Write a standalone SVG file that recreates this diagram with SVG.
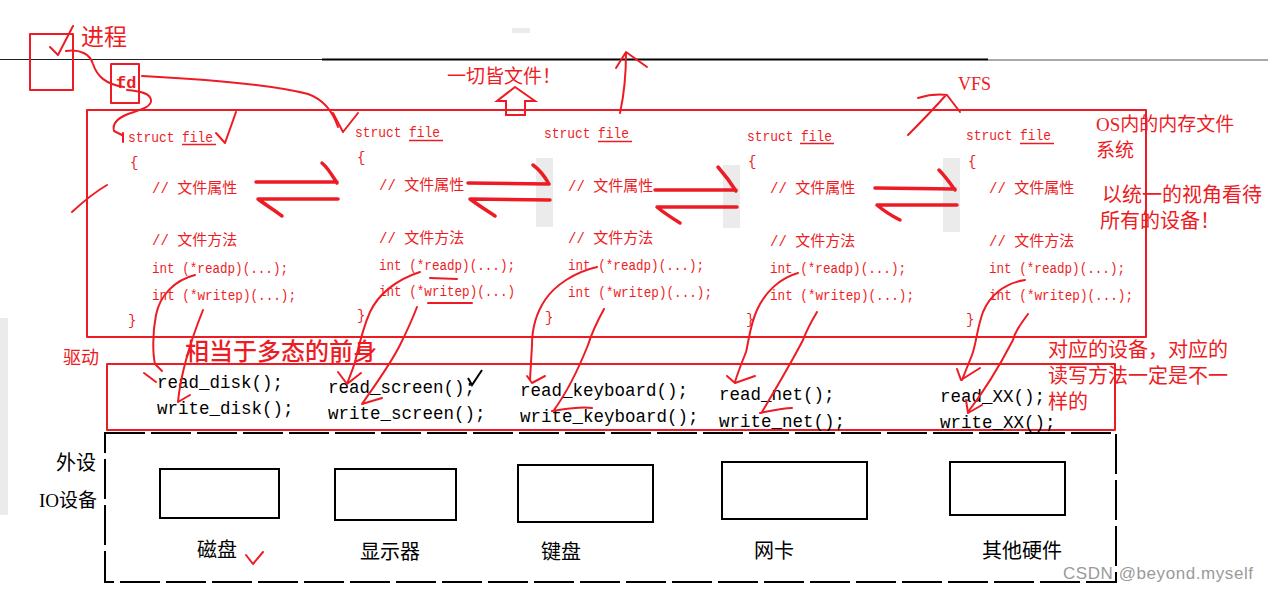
<svg xmlns="http://www.w3.org/2000/svg" width="1268" height="592" viewBox="0 0 1268 592">
<style>
.r{stroke:#ED1C24;fill:none;stroke-width:2;stroke-linecap:round;stroke-linejoin:round}
.rt{stroke:#ED1C24;fill:none;stroke-width:3.5;stroke-linecap:round;stroke-linejoin:round}
.k{stroke:#000;fill:none;stroke-width:2}
.code{font-family:"Liberation Mono",monospace;font-size:14px;fill:#ED1C24}
.cjk{font-family:"Noto Sans CJK SC",sans-serif;font-size:15px}
.lab{font-family:"Liberation Serif","Noto Sans CJK SC",serif;fill:#ED1C24}
.drv{font-family:"Liberation Mono",monospace;font-size:17.5px;fill:#000}
.dev{font-family:"Noto Sans CJK SC",sans-serif;font-size:20px;fill:#000}
.gray{fill:#ebebeb}
</style>
<rect width="1268" height="592" fill="#fff"/>
<line x1="0" y1="59.5" x2="322" y2="59.5" stroke="#222" stroke-width="1"/>
<line x1="322" y1="59.5" x2="988" y2="59.5" stroke="#000" stroke-width="2"/>
<line x1="988" y1="60" x2="1268" y2="60" stroke="#555" stroke-width="1"/>
<rect x="512" y="28" width="18" height="5" class="gray"/>
<rect x="0" y="318" width="8" height="197" class="gray"/>

<g id="process">
<rect x="30" y="34" width="43" height="56" class="r"/>
<text x="81" y="45" class="lab" font-size="23">进程</text>
</g>
<g id="fd">
<rect x="111" y="64" width="28" height="39" class="r"/>
<text x="116" y="88" font-family="Liberation Mono,monospace" font-size="17" font-weight="bold" fill="#ED1C24">fd</text>
</g>
<g id="everything-is-file">
<text x="447" y="83" class="lab" font-size="19">一切皆文件！</text>
<polygon points="515,87 535,101 525,101 525,115 506,115 506,101 497,101" fill="#fff" stroke="#ED1C24" stroke-width="2"/>
</g>
<g id="vfs-label"><text x="958" y="90" class="lab" font-size="18">VFS</text></g>

<g id="os-fs">
<rect x="87" y="110" width="1059" height="227" class="r"/>
<text x="1096" y="131" class="lab" font-size="19">OS内的内存文件</text>
<text x="1096" y="157" class="lab" font-size="19">系统</text>
<text x="1102" y="202" class="lab" font-size="20">以统一的视角看待</text>
<text x="1100" y="228" class="lab" font-size="20">所有的设备！</text>
<rect x="536" y="158" width="17" height="69" class="gray"/>
<rect x="723" y="165" width="17" height="63" class="gray"/>
<rect x="943" y="158" width="17" height="74" class="gray"/>
</g>

<g id="file1">
<text x="128" y="142" class="code" textLength="85" lengthAdjust="spacingAndGlyphs">struct file</text>
<line x1="182" y1="144.5" x2="216" y2="144.5" stroke="#ED1C24" stroke-width="1.5"/>
<text x="130" y="167" class="code">{</text>
<text x="152" y="193" class="code">// <tspan class="cjk">文件属性</tspan></text>
<text x="152" y="245" class="code">// <tspan class="cjk">文件方法</tspan></text>
<text x="152" y="273" class="code" textLength="136" lengthAdjust="spacingAndGlyphs">int (*readp)(...);</text>
<text x="152" y="300" class="code" textLength="144" lengthAdjust="spacingAndGlyphs">int (*writep)(...);</text>
<text x="128" y="325" class="code">}</text>
</g>
<g id="file2">
<text x="355" y="137" class="code" textLength="85" lengthAdjust="spacingAndGlyphs">struct file</text>
<line x1="409" y1="140.5" x2="443" y2="140.5" stroke="#ED1C24" stroke-width="1.5"/>
<text x="357" y="162" class="code">{</text>
<text x="379" y="190" class="code">// <tspan class="cjk">文件属性</tspan></text>
<text x="379" y="243" class="code">// <tspan class="cjk">文件方法</tspan></text>
<text x="379" y="270" class="code" textLength="136" lengthAdjust="spacingAndGlyphs">int (*readp)(...);</text>
<text x="379" y="296" class="code" textLength="136" lengthAdjust="spacingAndGlyphs">int (*writep)(...)</text>
<text x="357" y="320" class="code">}</text>
</g>
<g id="file3">
<text x="544" y="138" class="code" textLength="85" lengthAdjust="spacingAndGlyphs">struct file</text>
<line x1="598" y1="141.5" x2="632" y2="141.5" stroke="#ED1C24" stroke-width="1.5"/>
<text x="568" y="191" class="code">// <tspan class="cjk">文件属性</tspan></text>
<text x="568" y="243" class="code">// <tspan class="cjk">文件方法</tspan></text>
<text x="568" y="270" class="code" textLength="136" lengthAdjust="spacingAndGlyphs">int (*readp)(...);</text>
<text x="568" y="297" class="code" textLength="144" lengthAdjust="spacingAndGlyphs">int (*writep)(...);</text>
<text x="545" y="322" class="code">}</text>
</g>
<g id="file4">
<text x="747" y="141" class="code" textLength="85" lengthAdjust="spacingAndGlyphs">struct file</text>
<line x1="800" y1="143.5" x2="834" y2="143.5" stroke="#ED1C24" stroke-width="1.5"/>
<text x="748" y="166" class="code">{</text>
<text x="770" y="193" class="code">// <tspan class="cjk">文件属性</tspan></text>
<text x="770" y="246" class="code">// <tspan class="cjk">文件方法</tspan></text>
<text x="770" y="273" class="code" textLength="136" lengthAdjust="spacingAndGlyphs">int (*readp)(...);</text>
<text x="770" y="300" class="code" textLength="144" lengthAdjust="spacingAndGlyphs">int (*writep)(...);</text>
<text x="746" y="324" class="code">}</text>
</g>
<g id="file5">
<text x="966" y="140" class="code" textLength="85" lengthAdjust="spacingAndGlyphs">struct file</text>
<line x1="1020" y1="143.5" x2="1054" y2="143.5" stroke="#ED1C24" stroke-width="1.5"/>
<text x="968" y="166" class="code">{</text>
<text x="989" y="193" class="code">// <tspan class="cjk">文件属性</tspan></text>
<text x="989" y="246" class="code">// <tspan class="cjk">文件方法</tspan></text>
<text x="989" y="273" class="code" textLength="136" lengthAdjust="spacingAndGlyphs">int (*readp)(...);</text>
<text x="989" y="300" class="code" textLength="144" lengthAdjust="spacingAndGlyphs">int (*writep)(...);</text>
<text x="966" y="324" class="code">}</text>
</g>

<g id="driver">
<rect x="107" y="364" width="1008" height="66" class="r"/>
<text x="63" y="364" class="lab" font-size="18">驱动</text>
<text x="185" y="360" class="lab" font-size="24" font-weight="500">相当于多态的前身</text>
<text x="157" y="388" class="drv">read_disk();</text>
<text x="157" y="414" class="drv">write_disk();</text>
<text x="328" y="393" class="drv">read_screen();</text>
<text x="328" y="419" class="drv">write_screen();</text>
<text x="520" y="396" class="drv">read_keyboard();</text>
<text x="520" y="422" class="drv">write_keyboard();</text>
<text x="719" y="400" class="drv">read_net();</text>
<text x="719" y="427" class="drv">write_net();</text>
<text x="940" y="402" class="drv">read_XX();</text>
<text x="940" y="428" class="drv">write_XX();</text>
<text x="1048" y="357" class="lab" font-size="20">对应的设备，对应的</text>
<text x="1048" y="383" class="lab" font-size="20">读写方法一定是不一</text>
<text x="1048" y="409" class="lab" font-size="20">样的</text>
</g>

<g id="io-devices">
<rect x="105" y="433" width="1011" height="149" class="k" stroke-dasharray="40 6"/>
<text x="56" y="470" class="dev" font-size="19">外设</text>
<text x="39" y="507" font-family="Liberation Serif,Noto Sans CJK SC,serif" font-size="19" fill="#000">IO设备</text>
</g>
<g id="disk"><rect x="160" y="469" width="119" height="49" class="k"/><text x="197" y="557" class="dev">磁盘</text></g>
<g id="screen"><rect x="335" y="469" width="121" height="51" class="k"/><text x="360" y="559" class="dev">显示器</text></g>
<g id="keyboard"><rect x="518" y="465" width="135" height="57" class="k"/><text x="541" y="559" class="dev">键盘</text></g>
<g id="nic"><rect x="722" y="462" width="145" height="57" class="k"/><text x="754" y="558" class="dev">网卡</text></g>
<g id="other"><rect x="950" y="462" width="115" height="53" class="k"/><text x="982" y="558" class="dev">其他硬件</text></g>

<g id="connectors">
<path class="r" d="M50,47 L58,55 L73,26"/>
<path class="r" d="M66,51 C80,49 90,54 93,64 C97,76 105,84 124,87"/>
<path class="r" d="M127,90 C140,91 150,93 151,100 C152,107 140,110 128,114 C118,118 112,124 114,131 L122,135 M123,133 L123,142"/>
<path class="r" d="M142,76 C200,79 270,84 308,94 C325,100 333,112 338,127"/>
<path class="r" d="M333,113 L343,132 L358,113"/>
<path class="r" d="M216,133 L225,143 L236,112"/>
<path class="r" d="M72,212 C85,200 95,192 107,185"/>
<path class="r" d="M620,113 C624,95 626,75 626,53 M616,68 L626,52 L647,67"/>
<path class="r" d="M908,135 C925,118 938,104 946,95 M918,98 C928,95 938,94 947,95 L960,112"/>
<path class="rt" d="M256,182 L337,182 M322,163 C328,168 332,175 337,183 M338,199 L258,199 C266,205 274,210 282,216"/>
<path class="rt" d="M468,183 L549,184 M533,165 C540,170 545,177 549,184 M550,200 L470,199 C478,205 486,210 495,216"/>
<path class="rt" d="M655,190 L736,190 M718,167 C725,175 731,183 736,191 M737,207 L657,207 C664,213 672,218 680,223"/>
<path class="rt" d="M875,188 L955,189 M939,170 C945,176 950,183 955,190 M957,205 L877,205 C884,211 892,216 900,220"/>
<path class="r" d="M430,278 L457,279 M428,303 L472,303" stroke-width="1.5"/>
<path class="r" d="M195,275 C175,280 160,295 156,315 C152,335 153,355 155,364 L162,371 M144,373 L156,382"/>
<path class="r" d="M203,310 C197,325 190,345 186,360 C182,375 179,390 178,402 L190,395"/>
<path class="r" d="M420,272 C395,280 378,295 370,312 C362,330 358,350 355,362 C352,372 349,378 347,384 M338,372 L347,384 L361,373"/>
<path class="r" d="M417,307 C412,320 405,335 400,345 C390,365 375,385 362,404 L382,398"/>
<path class="r" d="M597,267 C575,272 555,285 545,300 C535,315 532,330 532,345 L530,380 M527,376 L532,383 L545,376"/>
<path class="r" d="M604,309 C598,320 592,332 588,345 C578,370 565,395 554,410 M552,411 C565,409 580,406 592,408"/>
<path class="r" d="M798,273 C780,278 765,292 757,310 C750,325 749,340 746,352 C742,362 738,372 735,382 M727,376 L735,383 L755,376"/>
<path class="r" d="M817,312 C811,322 806,332 803,340 C790,365 775,390 762,412 M760,413 C770,411 782,408 792,408"/>
<path class="r" d="M1025,280 C1005,283 990,295 983,312 C977,328 976,345 972,355 L962,380 M957,369 L961,380 L980,368"/>
<path class="r" d="M1028,314 C1020,325 1015,332 1013,340 C1000,365 985,390 968,412 M966,400 L968,413 L982,405"/>
<path d="M468,378 L472,385 L482,370" stroke="#000" stroke-width="2" fill="none"/>
<path class="r" d="M246,555 L253,564 L263,552"/>
</g>
<text x="1063" y="579" font-family="Liberation Sans,sans-serif" font-size="17" fill="#9a9a9a" textLength="190">CSDN @beyond.myself</text>
</svg>
